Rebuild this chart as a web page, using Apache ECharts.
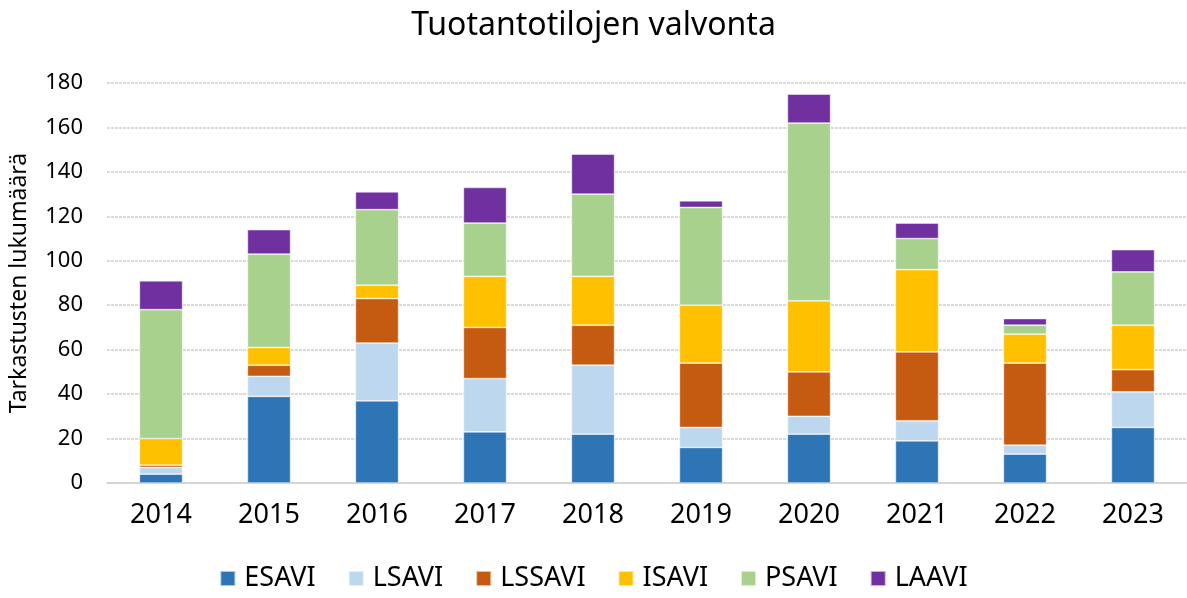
<!DOCTYPE html>
<html>
<head>
<meta charset="utf-8">
<script src="https://cdn.jsdelivr.net/npm/echarts@6/dist/echarts.min.js"></script>
<style>
html,body{margin:0;padding:0;background:#fff;}
#chart{width:1187px;height:598px;}
</style>
</head>
<body>
<div id="chart"></div>
<script>
var years = ['2014','2015','2016','2017','2018','2019','2020','2021','2022','2023'];
var ESAVI  = [4, 39, 37, 23, 22, 16, 22, 19, 13, 25];
var LSAVI  = [3, 9, 26, 24, 31, 9, 8, 9, 4, 16];
var LSSAVI = [1, 5, 20, 23, 18, 29, 20, 31, 37, 10];
var ISAVI  = [12, 8, 6, 23, 22, 26, 32, 37, 13, 20];
var PSAVI  = [58, 42, 34, 24, 37, 44, 80, 14, 4, 24];
var LAAVI  = [13, 11, 8, 16, 18, 3, 13, 7, 3, 10];
var yTicks = [0, 20, 40, 60, 80, 100, 120, 140, 160, 180];

var names = ['ESAVI','LSAVI','LSSAVI','ISAVI','PSAVI','LAAVI'];
var values = [ESAVI, LSAVI, LSSAVI, ISAVI, PSAVI, LAAVI];
var colors = ['#2E75B6','#BDD7EE','#C55A11','#FFC000','#A9D18E','#7030A0'];
var font = '"Noto Sans", sans-serif';

var chart = echarts.init(document.getElementById('chart'), null, {renderer:'canvas'});
chart.setOption({
  animation: false,
  title: {
    text: 'Tuotantotilojen valvonta',
    left: 'center',
    top: 5,
    textStyle: {fontFamily: font, fontSize: 32, fontWeight: 'normal', color: '#000'}
  },
  legend: {
    data: names,
    bottom: 1,
    left: 'center',
    itemWidth: 15,
    itemHeight: 15,
    itemGap: 32,
    icon: 'rect',
    textStyle: {fontFamily: font, fontSize: 27, color: '#000', padding: [0,0,0,4]}
  },
  grid: {left: 107, top: 83, height: 400, width: 1087, containLabel: false},
  xAxis: {
    type: 'category',
    data: years,
    axisLine: {show: true, lineStyle: {color: '#d0d0d0', width: 1.5}},
    axisTick: {show: false},
    axisLabel: {fontFamily: font, fontSize: 27, color: '#000', margin: 19}
  },
  yAxis: {
    type: 'value',
    min: yTicks[0],
    max: yTicks[yTicks.length-1],
    interval: 20,
    name: 'Tarkastusten lukumäärä',
    nameLocation: 'middle',
    nameGap: 76,
    nameTextStyle: {fontFamily: font, fontSize: 23, color: '#000'},
    axisLine: {show: false},
    axisTick: {show: false},
    axisLabel: {fontFamily: font, fontSize: 22, color: '#000', margin: 24},
    splitLine: {show: true, lineStyle: {color: '#d0d0d0', width: 1.5, type: [3,1]}}
  },
  series: names.map(function(n, i){
    return {
      name: n,
      type: 'bar',
      stack: 'total',
      barWidth: '40%',
      data: values[i],
      itemStyle: {color: colors[i], borderColor: 'rgba(255,255,255,0.6)', borderWidth: 0.75}
    };
  })
});
</script>
</body>
</html>
